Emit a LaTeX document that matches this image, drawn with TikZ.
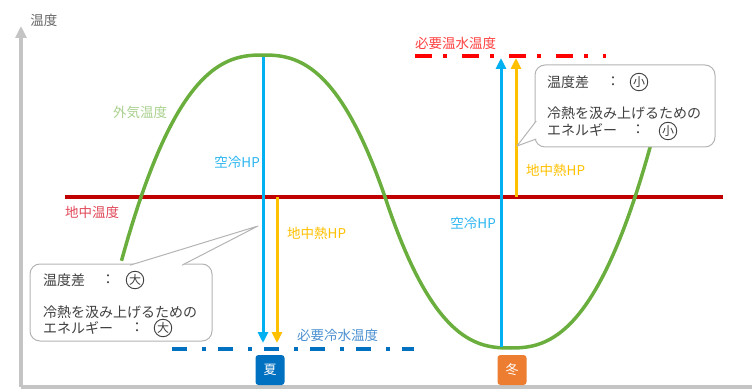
\documentclass[tikz,border=0pt]{standalone}
\usepackage{fontspec}
\setmainfont{Noto Sans CJK JP}
\usetikzlibrary{arrows.meta}
\definecolor{axisgray}{HTML}{C4C4C4}
\definecolor{curvegreen}{HTML}{6AAF3D}
\definecolor{groundred}{HTML}{C00000}
\definecolor{hpcyan}{HTML}{00B0F0}
\definecolor{gsorange}{HTML}{FFC000}
\definecolor{coldblue}{HTML}{0070C0}
\definecolor{hotred}{HTML}{FF0000}
\definecolor{winterorange}{HTML}{ED7D31}
\definecolor{textgray}{HTML}{404040}
\definecolor{callgray}{HTML}{B4B4B4}
\definecolor{outsidegreen}{HTML}{A9D18E}
\definecolor{hplabel}{HTML}{2BB5F0}
\definecolor{gslabel}{HTML}{FFC000}
\definecolor{groundlabel}{HTML}{E04858}
\definecolor{hotlabel}{HTML}{FF4040}
\definecolor{coldlabel}{HTML}{4A8FD0}
\begin{document}
\begin{tikzpicture}[x=1pt,y=-1pt,
  lbl/.style={font=\fontsize{13.5}{16}\selectfont, inner sep=0pt},
  ctext/.style={font=\fontsize{14}{17}\selectfont, text=textgray, inner sep=0pt, anchor=west},
  colon/.style={font=\fontsize{14}{17}\selectfont, text=textgray, inner sep=0pt},
  circ/.style={circle, draw=textgray, line width=0.9pt, minimum size=17.5pt, inner sep=0pt, font=\fontsize{12}{12}\selectfont, text=textgray},
  callbox/.style={draw=callgray, line width=1pt, fill=white, rounded corners=10pt, inner sep=0pt},
  season/.style={rounded corners=3pt, minimum width=29pt, minimum height=30pt, inner sep=0pt, text=white, font=\fontsize{13}{13}\selectfont},
  hparrow/.style={line width=3pt, -{Triangle[length=11pt,width=10pt]}},
]
\useasboundingbox (0,0) rectangle (755,390);

% axes
\coordinate (origin) at (21,387);
\coordinate (ytop) at (21,26);
\coordinate (xend) at (752,387);
\draw[axisgray, line width=3.5pt] (origin) -- (xend);
\draw[axisgray, line width=3.5pt, -{Triangle[length=12pt,width=11pt]}] (origin) -- (ytop);
\node[lbl, text=textgray!80] (ylabel) at (44,20) {温度};

% ground temperature line
\coordinate (gL) at (65,197);
\coordinate (gR) at (723,197);
\draw[groundred, line width=4.5pt] (gL) -- (gR);
\node[lbl, text=groundlabel, anchor=west] (glabel) at (65,212) {地中温度};

% outside air temperature curve
\draw[curvegreen, line width=3.5pt, line join=round]
  plot[domain=-1.16:1, samples=80] ({263+122*\x},{55+142*abs(\x)*abs(\x)*sqrt(abs(\x))})
  -- plot[domain=-1:1.15, samples=80] ({510+125*\x},{348-151*abs(\x)*abs(\x)*sqrt(abs(\x))});
\node[lbl, text=outsidegreen] (olabel) at (140,112) {外気温度};

% required water temperature lines
\coordinate (cwL) at (172,349);
\coordinate (cwR) at (414,349);
\draw[coldblue, line width=4pt, dash pattern=on 15pt off 15pt on 3.5pt off 12.5pt] (cwL) -- (cwR);
\node[lbl, text=coldlabel, anchor=west] (cwlabel) at (297,335) {必要冷水温度};

\coordinate (hwL) at (415,56);
\coordinate (hwR) at (606,56);
\draw[hotred, line width=4pt, dash pattern=on 17pt off 11pt on 4pt off 15pt] (hwL) -- (hwR);
\node[lbl, text=hotlabel, anchor=west] (hwlabel) at (415,43) {必要温水温度};

% summer arrows
\coordinate (sAirTop) at (263,57);
\coordinate (sAirBot) at (263,343);
\coordinate (sGsTop) at (277,197);
\coordinate (sGsBot) at (277,343);
\draw[hpcyan, hparrow] (sAirTop) -- (sAirBot);
\draw[gsorange, hparrow] (sGsTop) -- (sGsBot);
\node[lbl, text=hplabel, anchor=east] (sAirLabel) at (260,162) {空冷HP};
\node[lbl, text=gslabel, anchor=west] (sGsLabel) at (287,233) {地中熱HP};

% winter arrows
\coordinate (wAirBot) at (501,347);
\coordinate (wAirTop) at (501,58);
\coordinate (wGsBot) at (516,197);
\coordinate (wGsTop) at (516,58);
\draw[hpcyan, hparrow] (wAirBot) -- (wAirTop);
\draw[gsorange, hparrow] (wGsBot) -- (wGsTop);
\node[lbl, text=hplabel, anchor=east] (wAirLabel) at (496,223) {空冷HP};
\node[lbl, text=gslabel, anchor=west] (wGsLabel) at (526,170) {地中熱HP};

% left callout
\node[callbox, minimum width=182pt, minimum height=77pt] (lbox) at (121,302.5) {};
\coordinate (lbaseA) at (130,265.2);
\coordinate (lbaseB) at (182,265.2);
\coordinate (lapex) at (258,226);
\fill[white] (lbaseA) -- (lapex) -- (lbaseB) -- cycle;
\draw[callgray, line width=1pt, line join=round] (lbaseA) -- (lapex) -- (lbaseB);
\node[ctext] (l1) at (43,280) {温度差};
\node[colon] (l1c) at (108,280) {：};
\node[circ] (l1m) at (135,280) {大};
\node[ctext] (l2) at (43,312) {冷熱を汲み上げるための};
\node[ctext] (l3) at (43,328) {エネルギー};
\node[colon] (l3c) at (137,328) {：};
\node[circ] (l3m) at (163,328) {大};

% right callout
\node[callbox, minimum width=180pt, minimum height=82pt] (rbox) at (625,106) {};
\coordinate (rbaseA) at (536.2,121);
\coordinate (rbaseB) at (536.2,139);
\coordinate (rapex) at (517,146);
\fill[white] (rbaseA) -- (rapex) -- (rbaseB) -- cycle;
\draw[callgray, line width=1pt, line join=round] (rbaseA) -- (rapex) -- (rbaseB);
\node[ctext] (r1) at (547,82) {温度差};
\node[colon] (r1c) at (613,82) {：};
\node[circ] (r1m) at (639,82) {小};
\node[ctext] (r2) at (547,113) {冷熱を汲み上げるための};
\node[ctext] (r3) at (547,130) {エネルギー};
\node[colon] (r3c) at (638,130) {：};
\node[circ] (r3m) at (668,131) {小};

% season boxes
\node[season, fill=coldblue] (summer) at (270,370) {夏};
\node[season, fill=winterorange] (winter) at (512,370) {冬};
\end{tikzpicture}
\end{document}
